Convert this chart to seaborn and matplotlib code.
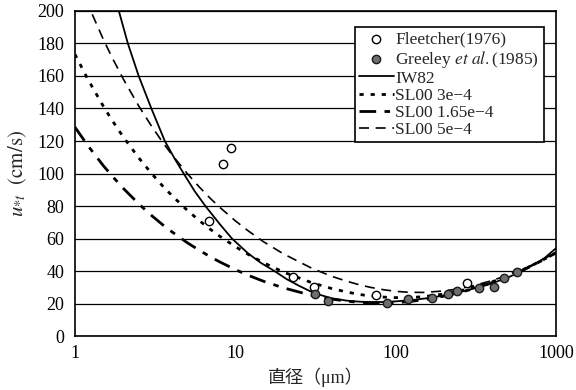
import matplotlib
matplotlib.use("Agg")
import matplotlib.pyplot as plt
import seaborn as sns
import pandas as pd

# 粒径 (µm) ごとの値
diam = [1, 1.2, 1.5, 1.7, 2, 2.5, 3, 3.5, 4, 5, 6, 7, 8, 10, 12, 15, 20, 30, 40, 50, 60, 70,
        85, 100, 120, 150, 200, 250, 300, 400, 500, 600, 700, 850, 1000]
sl00_3e4 = [173.4, 158.3, 141.6, 133.0, 122.6, 109.7, 100.2, 92.7, 86.8, 77.6, 70.9, 65.7,
            61.5, 55.1, 50.4, 45.2, 39.4, 32.9, 29.3, 27.1, 25.6, 24.7, 24.0, 23.7, 23.7,
            24.3, 25.9, 27.8, 29.7, 33.4, 36.9, 40.2, 43.2, 47.4, 51.3]
sl00_165e4 = [128.6, 117.4, 105.0, 98.7, 91.0, 81.4, 74.3, 68.8, 64.4, 57.6, 52.7, 48.8,
              45.7, 41.0, 37.5, 33.8, 29.7, 25.1, 22.8, 21.5, 20.8, 20.5, 20.4, 20.6, 21.2,
              22.4, 24.6, 26.8, 28.9, 32.9, 36.6, 39.9, 43.0, 47.3, 51.2]
sl00_5e4 = [223.9, 204.4, 182.8, 171.7, 158.3, 141.6, 129.3, 119.7, 112.0, 100.2, 91.5, 84.7,
            79.3, 71.0, 64.9, 58.1, 50.6, 41.8, 36.8, 33.7, 31.5, 30.0, 28.5, 27.6, 27.0,
            26.9, 27.8, 29.2, 30.8, 34.2, 37.5, 41.0, 43.5, 47.7, 51.5]

iw82_d = [1.6, 1.88, 2.14, 2.5, 3.0, 3.64, 4.2, 4.77, 5.6, 6.52, 8.0, 9.55, 12, 14.5, 17.6,
          21, 25, 31, 40, 50, 60, 70, 85, 100, 130, 170, 200, 250, 300, 400, 500, 600, 700,
          850, 1000]
iw82_u = [230, 200, 180, 160, 140, 120, 109, 100, 89, 80, 69, 60, 51, 45, 40, 35, 31, 26.5,
          23.3, 21.8, 21.2, 21, 21, 21.4, 22.3, 23.8, 25, 27, 29, 32.5, 36, 39.5, 43, 48, 54]

fl_d = [6.9, 8.4, 9.4, 22.8, 30.8, 76, 281]
fl_u = [70.8, 106, 116, 36.3, 30.2, 25.2, 32.6]

gr_d = [31.3, 37.7, 87.9, 119, 170, 211, 243, 334, 414, 478, 575]
gr_u = [25.8, 21.5, 20.3, 22.8, 23.4, 25.8, 27.7, 29.5, 30.2, 35.7, 39.4]

sns.set_style("white")
plt.rcParams['font.family'] = ['Liberation Serif', 'Noto Sans CJK JP', 'DejaVu Sans']
plt.rcParams['mathtext.fontset'] = 'stix'

fig = plt.figure(figsize=(5.76, 3.9), dpi=100)
ax = fig.add_axes([0.130, 0.138, 0.835, 0.834])

curves = pd.DataFrame({'d': diam, 'a': sl00_3e4, 'b': sl00_165e4, 'c': sl00_5e4})
iw = pd.DataFrame({'d': iw82_d, 'u': iw82_u})

sns.scatterplot(x=fl_d, y=fl_u, ax=ax, marker='o', s=36, facecolor='white',
                edgecolor='black', linewidth=1.0, label='Fleetcher(1976)', zorder=5)
sns.scatterplot(x=gr_d, y=gr_u, ax=ax, marker='o', s=36, color='#6e6e6e',
                edgecolor='#1a1a1a', linewidth=1.0, label=r'Greeley $\it{et\ al.}$(1985)', zorder=5)
sns.lineplot(data=iw, x='d', y='u', ax=ax, color='black', linewidth=1.3, label='IW82')
sns.lineplot(data=curves, x='d', y='a', ax=ax, color='black', linewidth=2.0,
             label='SL00 3e−4').lines[-1].set_dashes([1.5, 2.5])
sns.lineplot(data=curves, x='d', y='b', ax=ax, color='black', linewidth=2.0,
             label='SL00 1.65e−4').lines[-1].set_dashes([6, 3, 2, 3])
sns.lineplot(data=curves, x='d', y='c', ax=ax, color='black', linewidth=1.2,
             label='SL00 5e−4').lines[-1].set_dashes([6, 4])

ax.set_xscale('log')
ax.set_xlim(1, 1000)
ax.set_ylim(0, 200)
ax.set_yticks(range(0, 201, 20))
ax.set_xticks([1, 10, 100, 1000])
ax.set_xticklabels(['1', '10', '100', '1000'])
ax.minorticks_off()
ax.yaxis.grid(True, color='black', linewidth=0.9)
ax.set_axisbelow(True)
for s in ax.spines.values():
    s.set_color('black')
    s.set_linewidth(1.2)
ax.tick_params(axis='both', labelsize=13, colors='black', length=4, width=1)
ax.tick_params(axis='x', direction='inout', length=6)

ax.set_xlabel('直径（μm）', fontsize=13)
ax.set_ylabel(r'$u_{*t}\ \ \mathrm{(cm/s)}$', fontsize=15, labelpad=6)

leg = ax.legend(loc='upper right', bbox_to_anchor=(0.975, 0.95), fontsize=12.5,
                borderaxespad=0, frameon=True, fancybox=False, edgecolor='black',
                framealpha=1, handlelength=2.0, handletextpad=0.1, labelspacing=0.05,
                borderpad=0.25)
leg.get_frame().set_linewidth(1.2)

fig.savefig('out.png', dpi=100)
